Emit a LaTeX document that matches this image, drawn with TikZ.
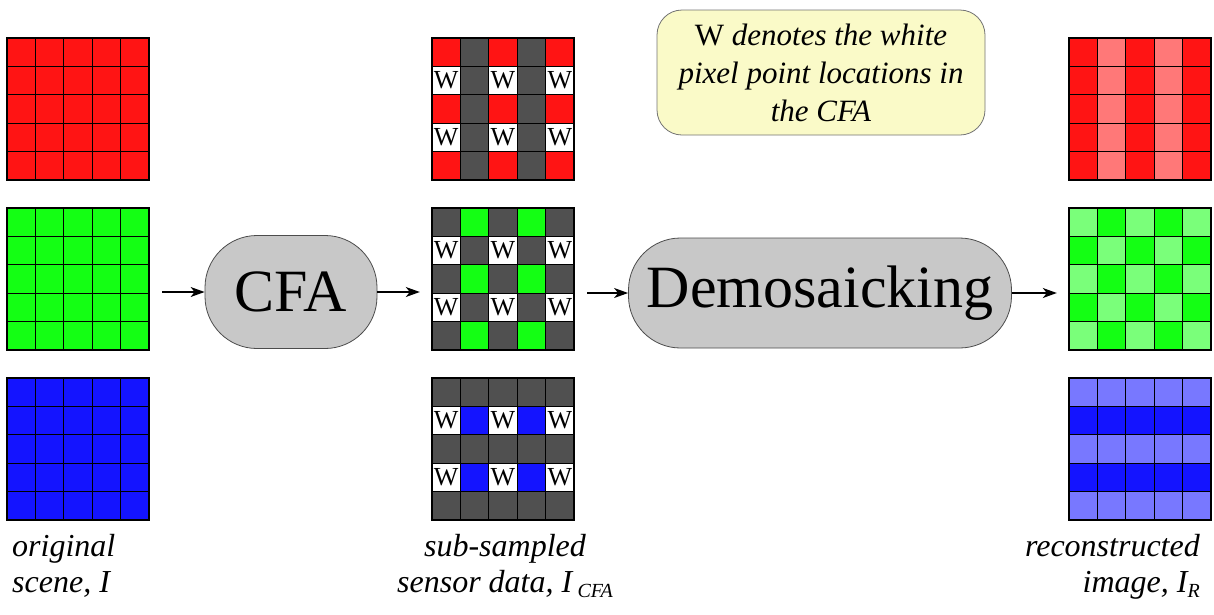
\documentclass[tikz,border=0pt]{standalone}
\usepackage{fontspec}
\newfontfamily\tnr{Liberation Serif}
\usetikzlibrary{arrows.meta}
\definecolor{cR}{HTML}{FF1414}
\definecolor{cG}{HTML}{14FF14}
\definecolor{cB}{HTML}{1414FF}
\definecolor{cK}{HTML}{505050}
\definecolor{cLR}{HTML}{FF7878}
\definecolor{cLG}{HTML}{7AFF7A}
\definecolor{cLB}{HTML}{7878FF}
\definecolor{cW}{HTML}{FFFFFF}
\definecolor{procfill}{HTML}{C8C8C8}
\definecolor{notefill}{HTML}{FAFAC8}
\newcommand\pixgrid[3]{%
  \foreach \row [count=\r from 0] in {#3}{%
    \foreach \col [count=\c from 0] in \row {%
      \filldraw[fill=\col, draw=black, line width=1.2pt]
        ({#1+\c*28.4},{#2+\r*28.4}) rectangle ++(28.4,28.4);
    }}}
\newcommand\wmarks[3]{%
  \foreach \r in {1,3}{\foreach \c in {0,2,4}{%
    \node[wlab] (w-#3-\r-\c) at ({#1+\c*28.4+14.2},{#2+\r*28.4+14.2}) {W};}}}
\tikzset{
  gridbox/.style={draw=none, inner sep=0pt, minimum width=142pt, minimum height=142pt},
  wlab/.style={inner sep=0pt, font=\tnr\fontsize{26}{26}\selectfont},
  proc/.style={draw=black!70, line width=0.8pt, fill=procfill, inner sep=0pt,
               font=\tnr\fontsize{60}{60}\selectfont},
  note/.style={draw=black!55, line width=0.8pt, fill=notefill, rounded corners=25pt,
               minimum width=328pt, minimum height=125pt, align=center,
               font=\tnr\fontsize{31}{38}\selectfont},
  lab/.style={inner sep=0pt, font=\tnr\fontsize{32}{36}\selectfont\itshape},
  flow/.style={-{Stealth[length=14pt,width=10pt,inset=4pt]}, line width=1.1pt},
}
\begin{document}
\begin{tikzpicture}[x=1pt,y=-1pt]
\useasboundingbox (0,0) rectangle (1214,614);
% original scene
\pixgrid{7}{38}{{cR,cR,cR,cR,cR},{cR,cR,cR,cR,cR},{cR,cR,cR,cR,cR},{cR,cR,cR,cR,cR},{cR,cR,cR,cR,cR}}
\pixgrid{7}{208}{{cG,cG,cG,cG,cG},{cG,cG,cG,cG,cG},{cG,cG,cG,cG,cG},{cG,cG,cG,cG,cG},{cG,cG,cG,cG,cG}}
\pixgrid{7}{378}{{cB,cB,cB,cB,cB},{cB,cB,cB,cB,cB},{cB,cB,cB,cB,cB},{cB,cB,cB,cB,cB},{cB,cB,cB,cB,cB}}
\node[gridbox] (gLR) at (78,109) {};
\node[gridbox] (gLG) at (78,279) {};
\node[gridbox] (gLB) at (78,449) {};
% CFA sampled
\pixgrid{432}{38}{{cR,cK,cR,cK,cR},{cW,cK,cW,cK,cW},{cR,cK,cR,cK,cR},{cW,cK,cW,cK,cW},{cR,cK,cR,cK,cR}}
\pixgrid{432}{208}{{cK,cG,cK,cG,cK},{cW,cK,cW,cK,cW},{cK,cG,cK,cG,cK},{cW,cK,cW,cK,cW},{cK,cG,cK,cG,cK}}
\pixgrid{432}{378}{{cK,cK,cK,cK,cK},{cW,cB,cW,cB,cW},{cK,cK,cK,cK,cK},{cW,cB,cW,cB,cW},{cK,cK,cK,cK,cK}}
\wmarks{432}{38}{r}
\wmarks{432}{208}{g}
\wmarks{432}{378}{b}
\node[gridbox] (gMR) at (503,109) {};
\node[gridbox] (gMG) at (503,279) {};
\node[gridbox] (gMB) at (503,449) {};
% reconstructed
\pixgrid{1069}{38}{{cR,cLR,cR,cLR,cR},{cR,cLR,cR,cLR,cR},{cR,cLR,cR,cLR,cR},{cR,cLR,cR,cLR,cR},{cR,cLR,cR,cLR,cR}}
\pixgrid{1069}{208}{{cLG,cG,cLG,cG,cLG},{cG,cLG,cG,cLG,cG},{cLG,cG,cLG,cG,cLG},{cG,cLG,cG,cLG,cG},{cLG,cG,cLG,cG,cLG}}
\pixgrid{1069}{378}{{cLB,cLB,cLB,cLB,cLB},{cB,cB,cB,cB,cB},{cLB,cLB,cLB,cLB,cLB},{cB,cB,cB,cB,cB},{cLB,cLB,cLB,cLB,cLB}}
\node[gridbox] (gRR) at (1140,109) {};
\node[gridbox] (gRG) at (1140,279) {};
\node[gridbox] (gRB) at (1140,449) {};
% processes
\node[proc, minimum width=172pt, minimum height=113pt, rounded corners=52pt] (cfa) at (291,292) {CFA};
\node[proc, minimum width=383pt, minimum height=110pt, rounded corners=52pt] (demo) at (820,293) {Demosaicking\hspace{7pt}};
% note
\node[note] (note) at (821,72.5) {W \textit{denotes the white}\\ \textit{pixel point locations in}\\ \textit{the CFA}};
% arrows
\draw[flow, shorten <=13pt] (gLG.east |- cfa.west) -- (cfa.west);
\draw[flow, shorten >=12pt] (cfa.east) -- (gMG.west |- cfa.east);
\draw[flow, shorten <=13pt] (gMG.east |- demo.west) -- (demo.west);
\draw[flow, shorten >=12pt] (demo.east) -- (gRG.west |- demo.east);
% labels
\node[lab, anchor=north west, align=left] (l1) at (12,534) {original\\ scene, \textit{I}};
\node[lab, anchor=north, align=center] (l2) at (505,534) {sub-sampled\\ sensor data, \textit{I}\,\raisebox{-0.35ex}{\fontsize{20}{20}\selectfont\textit{CFA}}};
\node[lab, anchor=north east, align=right] (l3) at (1200,534) {reconstructed\\ image, \textit{I}\raisebox{-0.35ex}{\fontsize{20}{20}\selectfont\textit{R}}};
\end{tikzpicture}
\end{document}
